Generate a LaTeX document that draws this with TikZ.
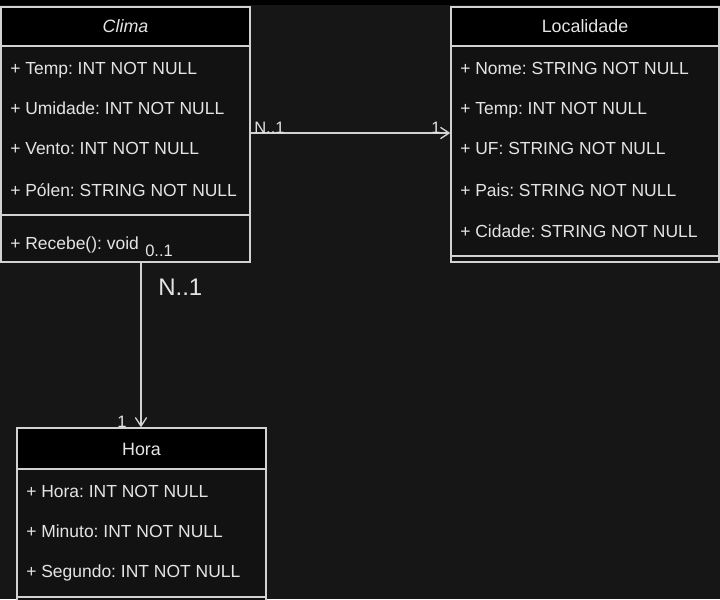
\documentclass[tikz,border=0pt]{standalone}
\usepackage{fontspec}
\setmainfont{Liberation Sans}
\frenchspacing
\usetikzlibrary{arrows.meta,fit}
\definecolor{bgc}{HTML}{161616}
\definecolor{bodyc}{HTML}{121212}
\definecolor{linec}{HTML}{D2D2D2}
\definecolor{txtc}{HTML}{E4E4E4}
\tikzset{
  classbox/.style={draw=linec, line width=1pt, fill=bodyc, inner sep=0pt},
  headbox/.style={draw=linec, line width=1pt, fill=black, inner sep=0pt},
  divider/.style={draw=linec, line width=1pt},
  attr/.style={anchor=base west, inner sep=0pt, text=txtc, font=\fontsize{13.1}{15}\selectfont},
  ttl/.style={anchor=base, inner sep=0pt, text=txtc, font=\fontsize{13.4}{15}\selectfont},
  elabel/.style={anchor=base west, inner sep=0pt, text=txtc, font=\fontsize{12.4}{14}\selectfont},
  biglabel/.style={anchor=base west, inner sep=0pt, text=txtc, font=\fontsize{18}{20}\selectfont},
  assoc/.style={draw=linec, line width=1pt, -{Straight Barb[length=6.5pt,width=8.5pt,line width=1pt]}}
}
\begin{document}
\begin{tikzpicture}[x=0.75pt,y=-0.75pt]
\useasboundingbox (0,0) rectangle (720,599);
\clip (0,0) rectangle (720,599);
\fill[bgc] (0,0) rectangle (720,599);
\fill[black] (0,0) rectangle (720,5);

% Clima
\node[classbox, fit={(1,7)(250,262)}] (clima) {};
\node[headbox, fit={(1,7)(250,46)}] (climah) {};
\draw[divider] (1,215) -- (250,215);
\node[ttl, font=\fontsize{13.4}{15}\selectfont\itshape] (climat) at (125.5,33) {Clima};
\node[attr] (ca1) at (10,75) {+ Temp: INT NOT NULL};
\node[attr] (ca2) at (10,115) {+ Umidade: INT NOT NULL};
\node[attr] (ca3) at (10,155) {+ Vento: INT NOT NULL};
\node[attr] (ca4) at (10,196) {+ Pólen: STRING NOT NULL};
\node[attr] (cm1) at (10,249) {+ Recebe(): void};

% Localidade
\node[classbox, fit={(451,7)(719,262)}] (loc) {};
\node[headbox, fit={(451,7)(719,46)}] (loch) {};
\draw[divider] (451,256) -- (719,256);
\node[ttl] (loct) at (585,33) {Localidade};
\node[attr] (la1) at (460,75) {+ Nome: STRING NOT NULL};
\node[attr] (la2) at (460,115) {+ Temp: INT NOT NULL};
\node[attr] (la3) at (460,155) {+ UF: STRING NOT NULL};
\node[attr] (la4) at (460,196) {+ Pais: STRING NOT NULL};
\node[attr] (la5) at (460,237) {+ Cidade: STRING NOT NULL};

% Hora
\node[classbox, fit={(17,428)(266,640)}] (hora) {};
\node[headbox, fit={(17,428)(266,469)}] (horah) {};
\draw[divider] (17,597) -- (266,597);
\node[ttl] (horat) at (141.5,455) {Hora};
\node[attr] (ha1) at (26,497) {+ Hora: INT NOT NULL};
\node[attr] (ha2) at (26,537) {+ Minuto: INT NOT NULL};
\node[attr] (ha3) at (26,577) {+ Segundo: INT NOT NULL};

% connectors
\coordinate (hline) at (0,133);
\coordinate (vline) at (141,0);
\draw[assoc] (clima.east |- hline) -- (loc.west |- hline);
\draw[assoc] (clima.south -| vline) -- (horah.north -| vline);

% labels
\node[elabel] (l1) at (254,134) {N..1};
\node[elabel] (l2) at (431,134) {1};
\node[elabel] (l3) at (145,256) {0..1};
\node[biglabel] (l4) at (158,295) {N..1};
\node[elabel] (l5) at (117,427) {1};
\end{tikzpicture}
\end{document}
